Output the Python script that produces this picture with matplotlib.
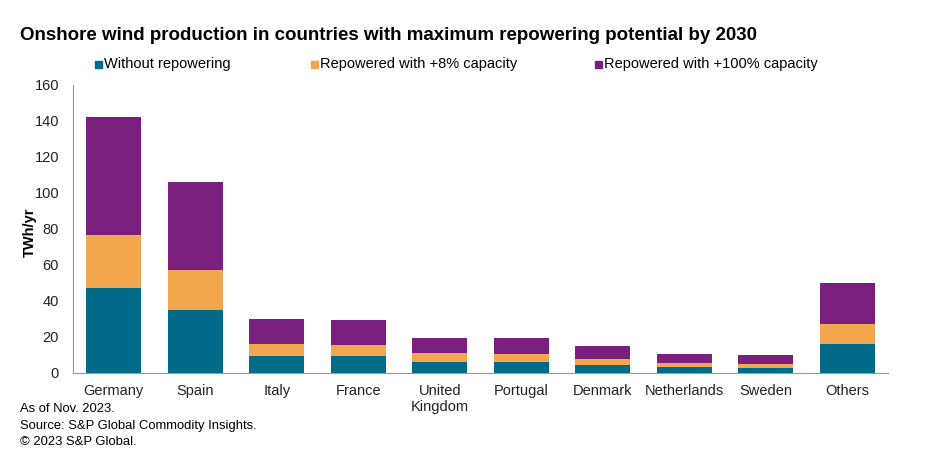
import numpy as np
import matplotlib.pyplot as plt
from matplotlib.patches import Rectangle

plt.rcParams['font.family'] = ['Liberation Sans', 'DejaVu Sans']

# Données (TWh/an)
pays = ['Germany', 'Spain', 'Italy', 'France', 'United\nKingdom', 'Portugal',
        'Denmark', 'Netherlands', 'Sweden', 'Others']
sans_repowering = [47.4, 35.2, 9.4, 9.4, 6.3, 6.1, 4.4, 3.5, 2.9, 16.3]
plus_8 = [29.4, 22.2, 6.9, 6.3, 4.6, 4.6, 3.5, 2.2, 2.3, 10.7]
plus_100 = [65.4, 48.9, 13.9, 13.9, 8.7, 8.9, 7.1, 5.0, 4.8, 23.2]

series = ['Without repowering', 'Repowered with +8% capacity', 'Repowered with +100% capacity']
couleurs = ['#006B89', '#F2A64E', '#7B1F7E']

fig = plt.figure(figsize=(9.36, 4.58), dpi=100)
ax = fig.add_axes([73 / 936, 1 - 373 / 458, 815 / 936, 288 / 458])

x = np.arange(len(pays))
bas = np.zeros(len(pays))
for vals, c, nom in zip([sans_repowering, plus_8, plus_100], couleurs, series):
    ax.bar(x, vals, bottom=bas, width=0.675, color=c, label=nom)
    bas += np.array(vals)

ax.set_xlim(-0.5, len(pays) - 0.5)
ax.set_ylim(0, 160)
ax.set_yticks(range(0, 161, 20))
ax.set_xticks(x)
ax.set_xticklabels(pays, fontsize=10.5, va='top')
ax.tick_params(axis='both', length=0, labelsize=10.5, colors='#222222')
ax.tick_params(axis='y', pad=10)
ax.tick_params(axis='x', pad=8)
for s in ['top', 'right']:
    ax.spines[s].set_visible(False)
for s in ['left', 'bottom']:
    ax.spines[s].set_color('#999999')
ax.set_ylabel('TWh/yr', fontsize=10.5, fontweight='bold')
ax.yaxis.set_label_coords(-0.044, 0.49)

# Titre
fig.text(20 / 936, 1 - 36 / 458, 'Onshore wind production in countries with maximum repowering potential by 2030',
         fontsize=13.5, fontweight='bold', va='center', ha='left')

# Légende manuelle
pos_leg = [95, 311, 595]
y_leg = 1 - 64 / 458
for px, c, nom in zip(pos_leg, couleurs, series):
    fig.add_artist(Rectangle((px / 936, y_leg - 3.5 / 458), 7 / 936, 7 / 458,
                             transform=fig.transFigure, color=c))
    fig.text((px + 9) / 936, y_leg, nom, fontsize=10.5, va='center', ha='left')

# Notes
notes = ['As of Nov. 2023.', 'Source: S&P Global Commodity Insights.', '\u00a9 2023 S&P Global.']
for i, n in enumerate(notes):
    fig.text(20 / 936, 1 - (409 + i * 16.5) / 458, n, fontsize=9.4, va='center', ha='left')

fig.savefig('out.png', dpi=100)
